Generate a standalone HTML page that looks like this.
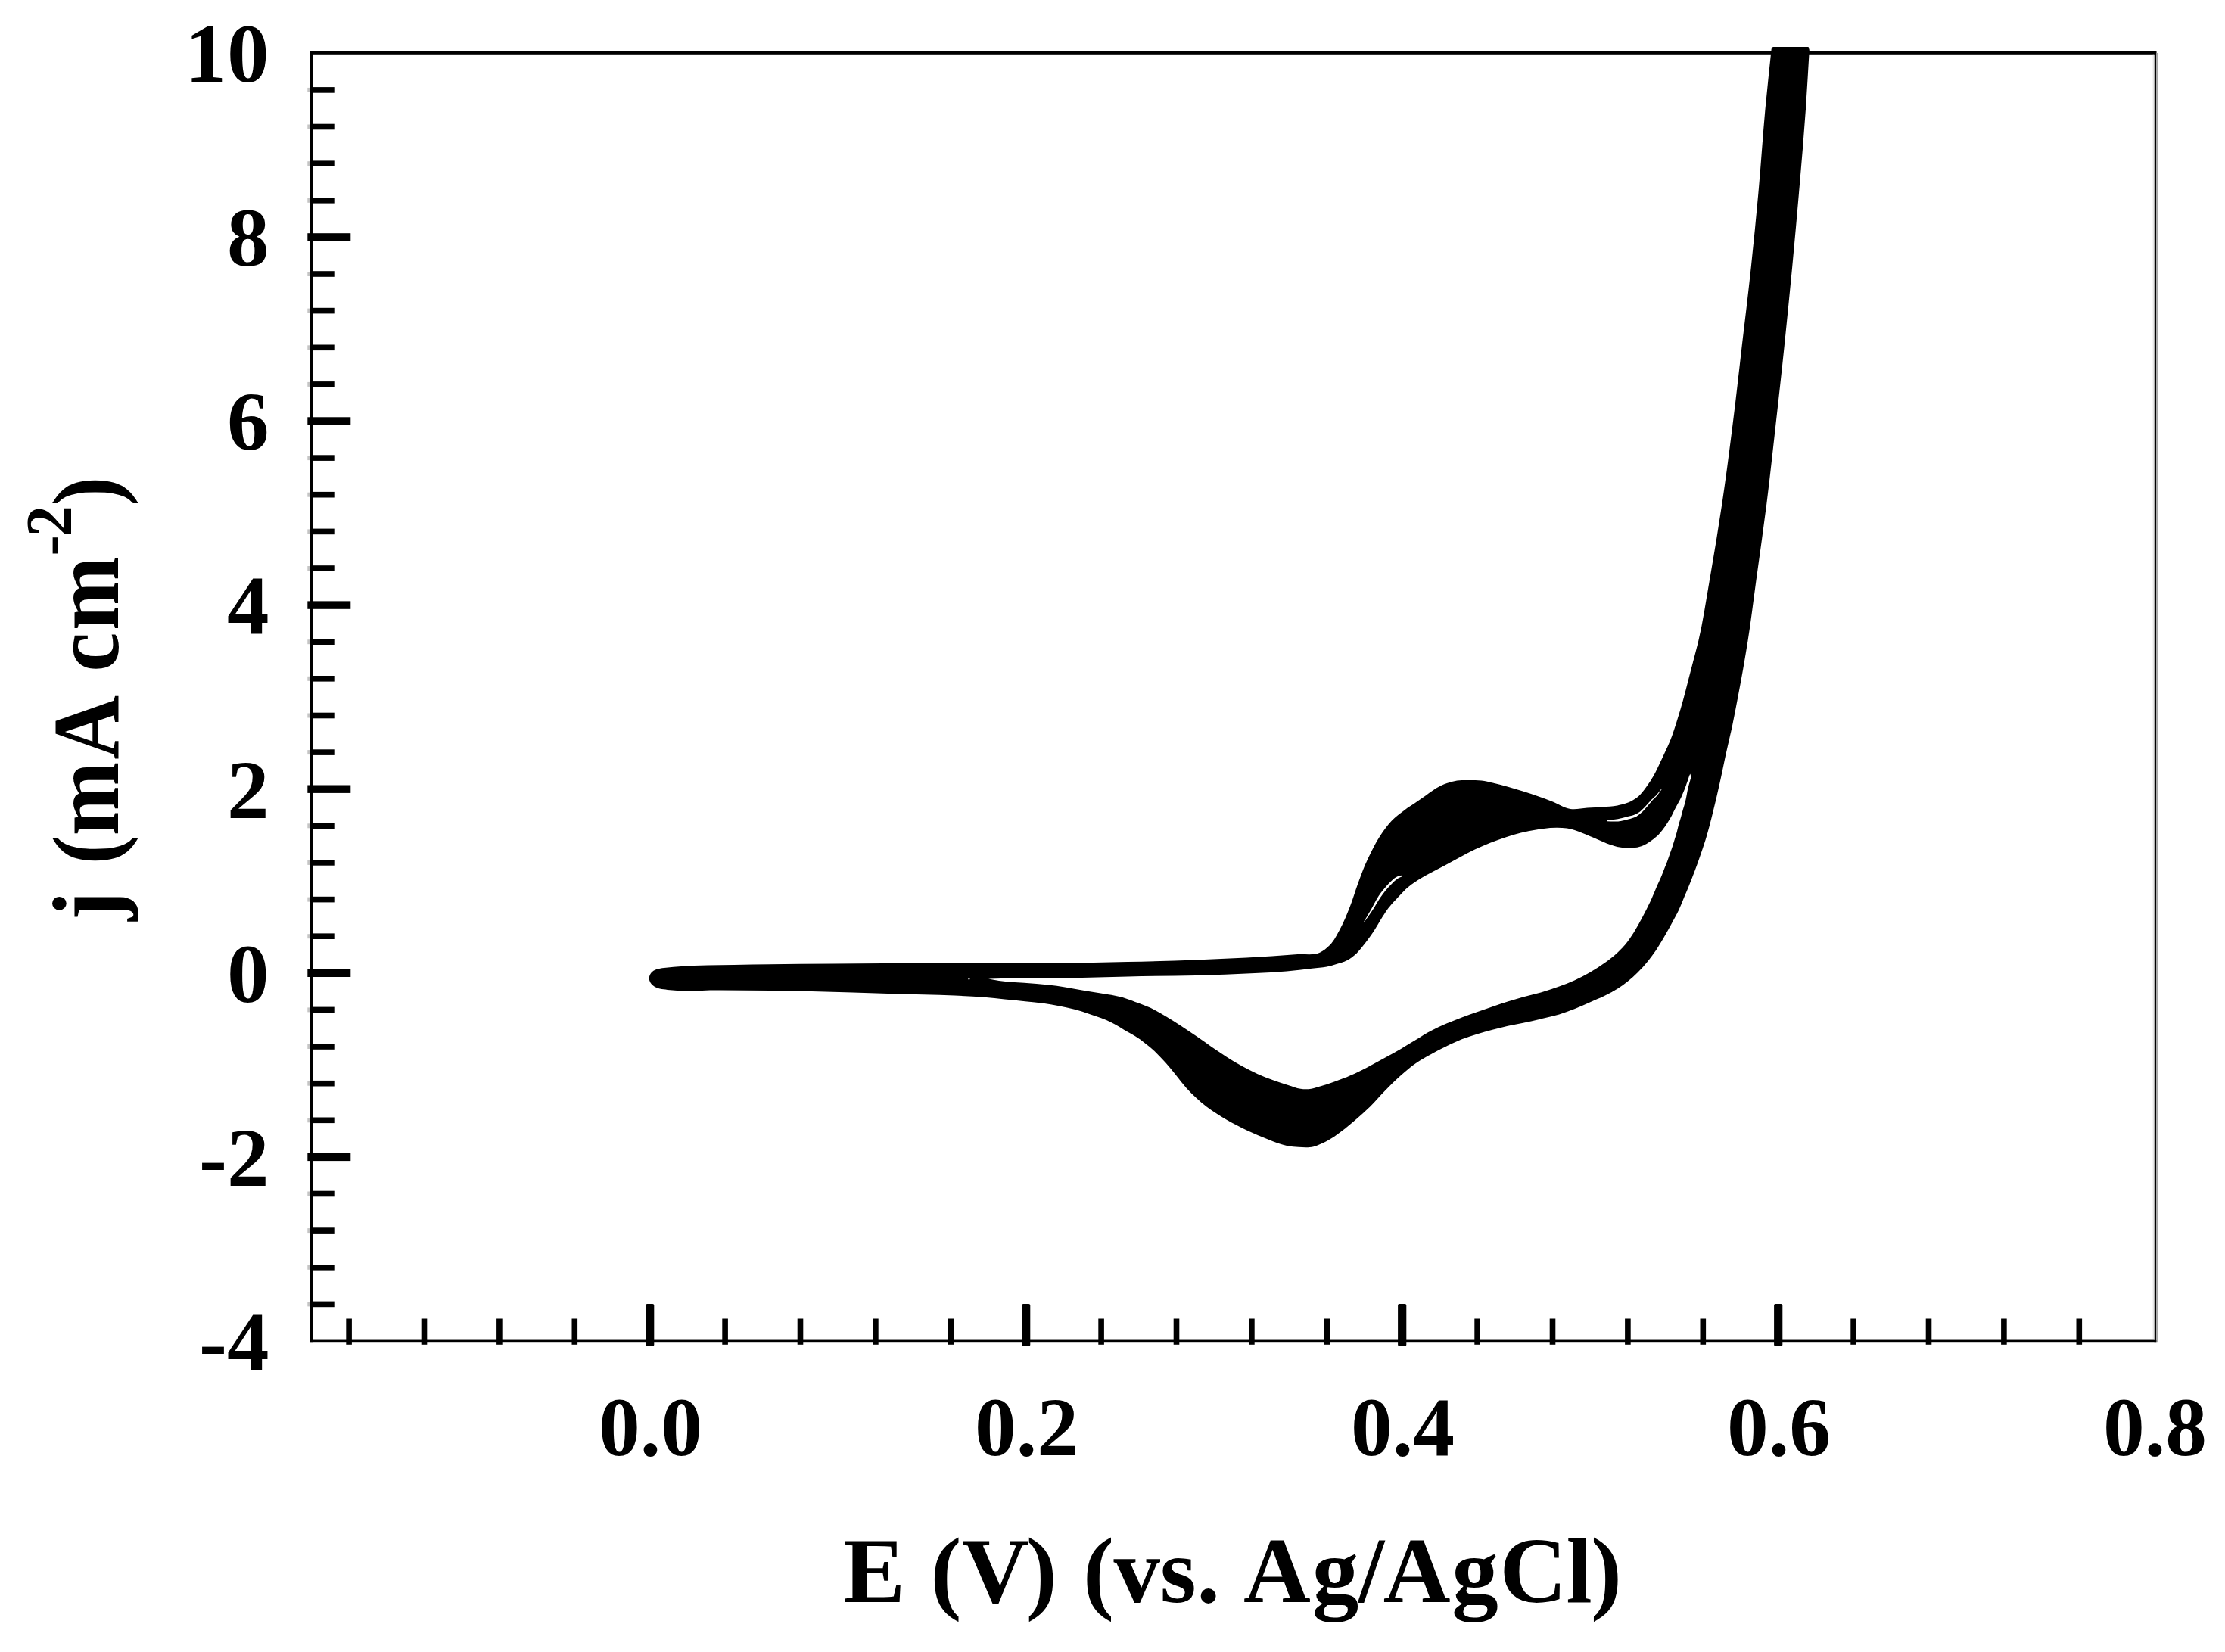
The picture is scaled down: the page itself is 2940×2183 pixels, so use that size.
<!DOCTYPE html>
<html lang="en">
<head>
<meta charset="utf-8">
<title>Cyclic voltammogram</title>
<style>
html,body{margin:0;padding:0;background:#fff;}
body{width:2940px;height:2183px;overflow:hidden;}
svg{display:block;}
.t{font-kerning:none;font-family:"Liberation Serif","Times New Roman",Times,serif;font-weight:bold;fill:#000;}
</style>
</head>
<body>
<svg width="2940" height="2183" viewBox="0 0 2940 2183">
<rect width="2940" height="2183" fill="#fff"/>
<g fill="#000">
<rect x="409" y="67.5" width="5" height="1706.7"/>
<rect x="409" y="67.5" width="2440.3" height="5.3"/>
<rect x="2846.5" y="67.5" width="2.8" height="1706.7"/>
<rect x="2849.3" y="70" width="2.6" height="1704.2" fill="#a8a8a8"/>
<rect x="2844.6" y="72.8" width="1.9" height="1697.2" fill="#e6e6e6"/>
<rect x="409" y="1771" width="2440.3" height="3.2"/>
<rect x="414" y="1769.7" width="2432.5" height="1.3" fill="#8c8c8c"/>
<rect x="409" y="115.1" width="32.7" height="7.6"/>
<rect x="406.3" y="115.9" width="2.7" height="6" fill="#c4c4c4"/>
<rect x="409" y="163.7" width="32.7" height="7.6"/>
<rect x="406.3" y="164.5" width="2.7" height="6" fill="#c4c4c4"/>
<rect x="409" y="212.4" width="32.7" height="7.6"/>
<rect x="406.3" y="213.2" width="2.7" height="6" fill="#c4c4c4"/>
<rect x="409" y="261.0" width="32.7" height="7.6"/>
<rect x="406.3" y="261.8" width="2.7" height="6" fill="#c4c4c4"/>
<rect x="406.3" y="308.2" width="57" height="10.4"/>
<rect x="409" y="358.2" width="32.7" height="7.6"/>
<rect x="406.3" y="359.0" width="2.7" height="6" fill="#c4c4c4"/>
<rect x="409" y="406.8" width="32.7" height="7.6"/>
<rect x="406.3" y="407.6" width="2.7" height="6" fill="#c4c4c4"/>
<rect x="409" y="455.5" width="32.7" height="7.6"/>
<rect x="406.3" y="456.3" width="2.7" height="6" fill="#c4c4c4"/>
<rect x="409" y="504.1" width="32.7" height="7.6"/>
<rect x="406.3" y="504.9" width="2.7" height="6" fill="#c4c4c4"/>
<rect x="406.3" y="551.3" width="57" height="10.4"/>
<rect x="409" y="601.3" width="32.7" height="7.6"/>
<rect x="406.3" y="602.1" width="2.7" height="6" fill="#c4c4c4"/>
<rect x="409" y="649.9" width="32.7" height="7.6"/>
<rect x="406.3" y="650.7" width="2.7" height="6" fill="#c4c4c4"/>
<rect x="409" y="698.6" width="32.7" height="7.6"/>
<rect x="406.3" y="699.4" width="2.7" height="6" fill="#c4c4c4"/>
<rect x="409" y="747.2" width="32.7" height="7.6"/>
<rect x="406.3" y="748.0" width="2.7" height="6" fill="#c4c4c4"/>
<rect x="406.3" y="794.4" width="57" height="10.4"/>
<rect x="409" y="844.4" width="32.7" height="7.6"/>
<rect x="406.3" y="845.2" width="2.7" height="6" fill="#c4c4c4"/>
<rect x="409" y="893.0" width="32.7" height="7.6"/>
<rect x="406.3" y="893.8" width="2.7" height="6" fill="#c4c4c4"/>
<rect x="409" y="941.7" width="32.7" height="7.6"/>
<rect x="406.3" y="942.5" width="2.7" height="6" fill="#c4c4c4"/>
<rect x="409" y="990.3" width="32.7" height="7.6"/>
<rect x="406.3" y="991.1" width="2.7" height="6" fill="#c4c4c4"/>
<rect x="406.3" y="1037.5" width="57" height="10.4"/>
<rect x="409" y="1087.5" width="32.7" height="7.6"/>
<rect x="406.3" y="1088.3" width="2.7" height="6" fill="#c4c4c4"/>
<rect x="409" y="1136.1" width="32.7" height="7.6"/>
<rect x="406.3" y="1136.9" width="2.7" height="6" fill="#c4c4c4"/>
<rect x="409" y="1184.8" width="32.7" height="7.6"/>
<rect x="406.3" y="1185.6" width="2.7" height="6" fill="#c4c4c4"/>
<rect x="409" y="1233.4" width="32.7" height="7.6"/>
<rect x="406.3" y="1234.2" width="2.7" height="6" fill="#c4c4c4"/>
<rect x="406.3" y="1280.6" width="57" height="10.4"/>
<rect x="409" y="1330.6" width="32.7" height="7.6"/>
<rect x="406.3" y="1331.4" width="2.7" height="6" fill="#c4c4c4"/>
<rect x="409" y="1379.2" width="32.7" height="7.6"/>
<rect x="406.3" y="1380.0" width="2.7" height="6" fill="#c4c4c4"/>
<rect x="409" y="1427.9" width="32.7" height="7.6"/>
<rect x="406.3" y="1428.7" width="2.7" height="6" fill="#c4c4c4"/>
<rect x="409" y="1476.5" width="32.7" height="7.6"/>
<rect x="406.3" y="1477.3" width="2.7" height="6" fill="#c4c4c4"/>
<rect x="406.3" y="1523.7" width="57" height="10.4"/>
<rect x="409" y="1573.7" width="32.7" height="7.6"/>
<rect x="406.3" y="1574.5" width="2.7" height="6" fill="#c4c4c4"/>
<rect x="409" y="1622.3" width="32.7" height="7.6"/>
<rect x="406.3" y="1623.1" width="2.7" height="6" fill="#c4c4c4"/>
<rect x="409" y="1671.0" width="32.7" height="7.6"/>
<rect x="406.3" y="1671.8" width="2.7" height="6" fill="#c4c4c4"/>
<rect x="409" y="1719.6" width="32.7" height="7.6"/>
<rect x="406.3" y="1720.4" width="2.7" height="6" fill="#c4c4c4"/>
<rect x="457.3" y="1742.5" width="7.6" height="34.3"/>
<rect x="556.7" y="1742.5" width="7.6" height="34.3"/>
<rect x="656.1" y="1742.5" width="7.6" height="34.3"/>
<rect x="755.5" y="1742.5" width="7.6" height="34.3"/>
<rect x="853.1" y="1723" width="11.2" height="56" rx="2"/>
<rect x="954.3" y="1742.5" width="7.6" height="34.3"/>
<rect x="1053.7" y="1742.5" width="7.6" height="34.3"/>
<rect x="1153.1" y="1742.5" width="7.6" height="34.3"/>
<rect x="1252.5" y="1742.5" width="7.6" height="34.3"/>
<rect x="1350.1" y="1723" width="11.2" height="56" rx="2"/>
<rect x="1451.3" y="1742.5" width="7.6" height="34.3"/>
<rect x="1550.7" y="1742.5" width="7.6" height="34.3"/>
<rect x="1650.1" y="1742.5" width="7.6" height="34.3"/>
<rect x="1749.5" y="1742.5" width="7.6" height="34.3"/>
<rect x="1847.1" y="1723" width="11.2" height="56" rx="2"/>
<rect x="1948.3" y="1742.5" width="7.6" height="34.3"/>
<rect x="2047.7" y="1742.5" width="7.6" height="34.3"/>
<rect x="2147.1" y="1742.5" width="7.6" height="34.3"/>
<rect x="2246.5" y="1742.5" width="7.6" height="34.3"/>
<rect x="2344.1" y="1723" width="11.2" height="56" rx="2"/>
<rect x="2445.3" y="1742.5" width="7.6" height="34.3"/>
<rect x="2544.7" y="1742.5" width="7.6" height="34.3"/>
<rect x="2644.1" y="1742.5" width="7.6" height="34.3"/>
<rect x="2743.5" y="1742.5" width="7.6" height="34.3"/>
</g>
<g class="t">
<text font-size="111" x="355.5" y="108.1" text-anchor="end">10</text>
<text font-size="111" x="355.5" y="351.2" text-anchor="end">8</text>
<text font-size="111" x="355.5" y="594.3" text-anchor="end">6</text>
<text font-size="111" x="355.5" y="837.4" text-anchor="end">4</text>
<text font-size="111" x="355.5" y="1080.5" text-anchor="end">2</text>
<text font-size="111" x="355.5" y="1323.6" text-anchor="end">0</text>
<text font-size="111" x="355.5" y="1566.7" text-anchor="end">-2</text>
<text font-size="111" x="355.5" y="1809.8" text-anchor="end">-4</text>
<text font-size="109.5" x="859.5" y="1923.3" text-anchor="middle">0.0</text>
<text font-size="109.5" x="1356.5" y="1923.3" text-anchor="middle">0.2</text>
<text font-size="109.5" x="1853.5" y="1923.3" text-anchor="middle">0.4</text>
<text font-size="109.5" x="2350.5" y="1923.3" text-anchor="middle">0.6</text>
<text font-size="109.5" x="2847.5" y="1923.3" text-anchor="middle">0.8</text>
</g>
<text class="t" font-size="123" y="2117" x="1114.1 1196.2 1229.6 1270.8 1355.8 1396.8 1431.1 1471.5 1532.8 1581.2 1612.0 1642.9 1733.8 1795.0 1827.8 1918.3 1981.5 2069.5 2102.0">E (V) (vs. Ag/AgCl)</text>
<text class="t" font-size="117.5" transform="translate(155.8 0) rotate(-90) scale(1 1.055)" y="0" x="-1216.8 -1177.7 -1142.5 -1104.4 -1003.8 -918.9 -887.8 -833.2">j (mA cm<tspan font-size="82" y="-59" x="-734.6 -709.2">-2</tspan><tspan y="0" x="-668.8">)</tspan></text>
<path d="M857.8 1293.5C857.7 1291.5 858.3 1289.1 859.3 1287.3C860.2 1285.6 861.9 1284.0 863.5 1282.8C865.4 1281.5 867.8 1280.9 870.0 1280.2C873.2 1279.3 876.7 1279.1 880.0 1278.7C886.6 1277.9 893.3 1277.5 900.0 1277.0C923.3 1275.3 946.7 1275.5 970.0 1275.0C1013.3 1274.0 1056.7 1273.8 1100.0 1273.4C1144.7 1273.0 1189.3 1272.9 1234.0 1272.8C1289.3 1272.6 1344.7 1273.1 1400.0 1272.5C1430.0 1272.2 1460.0 1271.7 1490.0 1271.0C1520.0 1270.3 1550.0 1269.6 1580.0 1268.5C1602.3 1267.7 1624.7 1266.8 1647.0 1265.6C1669.5 1264.4 1692.1 1262.8 1714.6 1261.1C1724.4 1260.3 1735.4 1262.8 1744.0 1258.7C1748.7 1256.5 1753.2 1252.7 1757.0 1249.0C1763.1 1243.0 1766.9 1234.6 1771.0 1227.0C1775.9 1218.0 1779.7 1208.4 1783.5 1198.8C1787.6 1188.4 1790.6 1177.5 1794.5 1167.0C1797.5 1159.0 1800.3 1150.9 1803.7 1143.0C1806.6 1136.4 1809.7 1129.8 1813.0 1123.4C1816.4 1116.8 1819.9 1110.2 1824.0 1104.0C1828.4 1097.4 1833.0 1090.7 1838.5 1085.0C1843.8 1079.5 1850.1 1074.8 1856.3 1070.2C1861.4 1066.4 1866.8 1063.2 1872.0 1059.6C1876.4 1056.6 1880.7 1053.5 1885.0 1050.5C1889.4 1047.4 1893.6 1044.0 1898.3 1041.3C1902.6 1038.9 1907.1 1036.6 1911.8 1035.0C1916.2 1033.5 1920.7 1032.3 1925.3 1031.6C1930.6 1030.8 1936.1 1030.9 1941.5 1030.9C1946.9 1030.9 1952.3 1030.9 1957.6 1031.5C1962.6 1032.1 1967.6 1033.4 1972.5 1034.5C1979.3 1036.0 1986.0 1037.9 1992.7 1039.8C1999.5 1041.7 2006.2 1043.7 2012.9 1045.8C2019.7 1047.9 2026.4 1050.2 2033.1 1052.6C2038.8 1054.6 2044.4 1056.7 2050.0 1058.8C2058.4 1062.0 2066.3 1067.7 2075.0 1068.9C2082.2 1069.9 2089.9 1068.1 2097.4 1067.6C2104.1 1067.2 2110.9 1066.8 2117.6 1066.3C2124.1 1065.8 2130.6 1065.6 2137.0 1064.4C2142.1 1063.4 2147.3 1062.3 2152.0 1060.3C2156.5 1058.3 2161.0 1055.7 2164.8 1052.5C2169.0 1048.9 2172.3 1044.1 2175.6 1039.6C2179.0 1035.0 2182.1 1030.0 2185.0 1025.0C2188.0 1019.8 2190.4 1014.4 2193.0 1009.0C2195.4 1004.0 2197.7 999.0 2200.0 994.0C2202.4 988.8 2204.9 983.7 2207.0 978.5C2210.6 969.6 2213.4 960.3 2216.3 951.1C2219.1 942.2 2221.7 933.2 2224.2 924.2C2226.4 916.2 2228.4 908.1 2230.5 900.0C2232.7 891.7 2234.8 883.3 2237.0 875.0C2239.3 866.0 2241.8 857.0 2244.0 848.0C2250.2 822.0 2253.9 795.5 2258.5 769.2C2264.6 734.5 2270.3 699.8 2275.5 665.0C2280.7 630.3 2285.1 595.6 2289.5 560.8C2293.9 526.1 2297.7 491.4 2301.7 456.7C2305.8 422.0 2310.1 387.3 2313.8 352.5C2317.5 317.8 2320.9 283.1 2324.0 248.3C2327.1 213.6 2329.3 178.9 2332.5 144.2C2335.0 117.6 2338.0 91.1 2340.7 64.5C2341.3 63.7 2342.0 62.9 2342.6 62.1C2358.3 62.1 2373.9 62.1 2389.6 62.1C2390.0 63.4 2390.4 64.7 2390.8 66.0C2389.2 92.1 2387.8 118.1 2386.0 144.2C2383.6 178.9 2380.6 213.6 2377.6 248.3C2374.6 283.0 2371.5 317.8 2368.2 352.5C2364.9 387.2 2361.4 422.0 2357.8 456.7C2354.2 491.4 2350.3 526.1 2346.4 560.8C2342.5 595.5 2338.8 630.3 2334.4 665.0C2330.0 699.8 2325.0 734.5 2320.2 769.2C2316.6 795.5 2313.5 821.8 2309.3 848.0C2307.4 859.9 2305.4 871.8 2303.3 883.7C2301.0 896.5 2298.6 909.2 2296.2 921.9C2293.9 933.9 2291.7 945.9 2289.2 957.9C2286.5 970.7 2283.4 983.4 2280.6 996.1C2277.7 1009.5 2275.0 1023.1 2272.0 1036.5C2269.1 1049.3 2266.2 1062.0 2263.0 1074.7C2260.2 1086.0 2257.4 1097.3 2254.0 1108.4C2251.5 1116.7 2248.6 1124.8 2245.8 1133.0C2243.8 1138.9 2241.7 1144.7 2239.5 1150.5C2237.2 1156.5 2234.9 1162.5 2232.5 1168.4C2230.3 1173.9 2228.0 1179.3 2225.7 1184.7C2223.3 1190.5 2221.1 1196.3 2218.5 1202.0C2215.5 1208.5 2211.9 1214.7 2208.5 1221.0C2205.3 1226.9 2202.1 1232.7 2198.7 1238.5C2195.3 1244.2 2192.0 1250.0 2188.3 1255.5C2185.1 1260.3 2181.6 1265.0 2178.0 1269.5C2173.6 1274.9 2168.9 1280.1 2164.0 1285.0C2159.7 1289.2 2155.3 1293.3 2150.6 1297.0C2146.3 1300.4 2141.9 1303.6 2137.3 1306.5C2132.0 1309.8 2126.5 1312.7 2120.9 1315.5C2114.3 1318.8 2107.4 1321.5 2100.7 1324.5C2093.9 1327.5 2087.3 1330.6 2080.4 1333.3C2073.8 1335.9 2067.0 1338.4 2060.2 1340.5C2053.9 1342.4 2047.4 1343.8 2041.0 1345.3C2031.5 1347.6 2022.0 1349.7 2012.5 1351.7C2005.7 1353.1 1998.9 1354.2 1992.2 1355.7C1985.4 1357.2 1978.7 1359.0 1972.0 1360.8C1965.2 1362.6 1958.5 1364.4 1951.8 1366.5C1945.0 1368.6 1938.2 1370.7 1931.6 1373.3C1924.7 1376.0 1918.0 1379.3 1911.3 1382.5C1904.5 1385.8 1897.7 1389.3 1891.1 1393.0C1884.3 1396.8 1877.3 1400.6 1870.9 1405.0C1863.7 1410.0 1857.0 1415.7 1850.5 1421.5C1843.5 1427.7 1836.9 1434.4 1830.4 1441.0C1823.5 1448.0 1817.2 1455.6 1810.2 1462.5C1803.7 1468.9 1796.9 1474.9 1790.0 1480.8C1785.5 1484.6 1781.0 1488.4 1776.4 1492.0C1772.0 1495.4 1767.6 1498.9 1762.9 1502.0C1758.6 1504.8 1754.1 1507.6 1749.4 1509.8C1744.9 1511.9 1740.3 1514.1 1735.5 1515.2C1729.2 1516.7 1722.3 1516.1 1715.7 1515.8C1711.2 1515.6 1706.6 1515.3 1702.2 1514.5C1697.7 1513.6 1693.2 1512.2 1688.8 1510.7C1684.2 1509.2 1679.8 1507.3 1675.3 1505.5C1670.8 1503.7 1666.3 1501.8 1661.8 1499.9C1657.3 1498.0 1652.8 1496.1 1648.3 1494.0C1643.7 1491.9 1639.3 1489.6 1634.8 1487.3C1630.3 1484.9 1625.7 1482.5 1621.3 1479.9C1616.8 1477.3 1612.3 1474.6 1607.9 1471.8C1603.3 1468.8 1598.7 1465.7 1594.4 1462.4C1589.7 1458.8 1585.2 1454.9 1580.9 1450.9C1576.2 1446.6 1571.7 1442.1 1567.4 1437.4C1562.6 1432.1 1558.4 1426.3 1553.9 1420.8C1549.4 1415.4 1545.1 1409.9 1540.4 1404.6C1536.1 1399.7 1531.7 1394.9 1527.0 1390.4C1522.7 1386.3 1518.2 1382.5 1513.5 1378.9C1509.1 1375.5 1504.7 1372.2 1500.0 1369.3C1496.7 1367.2 1493.3 1365.4 1489.9 1363.5C1483.0 1359.5 1476.3 1355.0 1469.2 1351.5C1464.8 1349.3 1460.3 1347.3 1455.7 1345.5C1450.4 1343.4 1444.9 1341.8 1439.5 1340.0C1433.3 1337.9 1427.0 1335.7 1420.7 1334.0C1413.6 1332.1 1406.3 1330.7 1399.1 1329.3C1392.8 1328.1 1386.5 1326.9 1380.2 1326.0C1371.7 1324.8 1363.1 1324.1 1354.6 1323.2C1345.6 1322.2 1336.6 1321.3 1327.6 1320.4C1318.6 1319.5 1309.7 1318.5 1300.7 1317.8C1287.7 1316.8 1274.6 1316.2 1261.5 1315.6C1234.6 1314.3 1207.6 1314.1 1180.6 1313.3C1144.6 1312.2 1108.7 1310.8 1072.7 1310.0C1032.3 1309.1 991.8 1308.8 951.4 1308.4C928.3 1308.2 905.0 1310.5 882.0 1307.9C878.7 1307.5 875.2 1307.5 872.0 1306.6C869.4 1305.9 866.7 1305.0 864.5 1303.5C862.7 1302.3 860.9 1300.8 859.8 1299.0C858.8 1297.4 857.9 1295.4 857.8 1293.5Z M1306.0 1293.6C1317.3 1293.3 1328.7 1292.9 1340.0 1292.6C1370.0 1291.9 1400.0 1292.6 1430.0 1292.0C1450.0 1291.6 1470.0 1290.8 1490.0 1290.4C1520.0 1289.7 1550.0 1289.8 1580.0 1289.0C1606.0 1288.3 1632.0 1287.4 1658.0 1286.0C1672.0 1285.2 1686.0 1284.6 1700.0 1283.4C1711.3 1282.4 1722.5 1281.1 1733.7 1279.8C1740.1 1279.1 1746.7 1278.9 1753.0 1277.6C1757.9 1276.6 1762.7 1275.1 1767.4 1273.6C1771.7 1272.2 1776.1 1271.1 1780.0 1269.0C1783.7 1267.1 1787.2 1264.6 1790.4 1261.8C1793.5 1259.1 1796.2 1255.7 1798.9 1252.5C1801.4 1249.6 1803.7 1246.5 1806.0 1243.5C1809.2 1239.3 1812.4 1234.9 1815.3 1230.5C1818.5 1225.6 1821.2 1220.4 1824.3 1215.5C1827.6 1210.3 1830.7 1204.9 1834.5 1200.0C1838.3 1195.1 1842.7 1190.5 1847.0 1186.0C1851.7 1181.0 1856.3 1175.9 1861.6 1171.6C1866.6 1167.5 1872.2 1163.9 1877.7 1160.5C1884.3 1156.4 1891.4 1153.0 1898.3 1149.3C1905.0 1145.7 1911.8 1142.0 1918.5 1138.4C1925.3 1134.7 1931.9 1130.9 1938.8 1127.4C1945.4 1124.1 1952.2 1120.9 1959.0 1118.0C1965.7 1115.1 1972.4 1112.5 1979.2 1110.0C1985.9 1107.6 1992.6 1105.3 1999.4 1103.3C2006.1 1101.4 2012.9 1099.7 2019.7 1098.3C2026.4 1096.9 2033.1 1095.8 2039.9 1095.0C2045.9 1094.3 2052.0 1093.7 2058.0 1093.8C2062.1 1093.8 2066.3 1094.0 2070.4 1094.6C2077.4 1095.7 2084.1 1098.4 2090.7 1100.8C2097.6 1103.3 2104.2 1106.5 2110.9 1109.3C2116.3 1111.5 2121.6 1114.1 2127.1 1116.0C2131.3 1117.4 2135.6 1118.8 2140.0 1119.6C2143.3 1120.2 2146.7 1120.5 2150.0 1120.6C2153.6 1120.7 2157.2 1120.6 2160.7 1120.1C2164.3 1119.5 2167.9 1118.6 2171.3 1117.2C2174.3 1115.9 2177.2 1114.1 2180.0 1112.3C2183.1 1110.3 2186.0 1108.1 2188.7 1105.6C2191.6 1103.0 2194.1 1099.9 2196.5 1096.9C2199.0 1093.8 2201.2 1090.5 2203.3 1087.2C2205.3 1084.0 2207.3 1080.8 2209.1 1077.5C2210.8 1074.3 2212.2 1071.0 2213.9 1067.8C2215.6 1064.5 2217.6 1061.4 2219.2 1058.1C2220.8 1054.9 2222.2 1051.7 2223.6 1048.4C2225.0 1045.2 2226.3 1042.0 2227.5 1038.7C2228.3 1036.5 2229.1 1034.2 2229.9 1032.0C2230.6 1029.8 2231.2 1027.6 2232.0 1025.5C2232.4 1024.5 2232.9 1023.5 2233.3 1022.5C2233.6 1023.7 2234.2 1024.8 2234.3 1026.0C2234.5 1027.8 2233.6 1029.7 2233.2 1031.5C2232.5 1034.6 2231.3 1037.6 2230.6 1040.7C2229.8 1043.9 2229.4 1047.2 2228.7 1050.4C2228.1 1053.6 2227.5 1056.8 2226.7 1060.0C2225.9 1063.3 2224.7 1066.5 2223.8 1069.7C2222.9 1072.9 2222.1 1076.2 2221.2 1079.4C2220.3 1082.6 2219.2 1085.8 2218.3 1089.1C2217.4 1092.3 2216.8 1095.6 2215.9 1098.8C2215.0 1102.1 2214.0 1105.3 2213.0 1108.5C2212.0 1111.7 2211.1 1115.0 2210.0 1118.2C2209.0 1121.4 2207.8 1124.6 2206.7 1127.8C2205.6 1131.0 2204.5 1134.3 2203.3 1137.5C2202.1 1140.8 2200.7 1144.0 2199.4 1147.2C2197.8 1151.3 2196.3 1155.5 2194.6 1159.5C2193.1 1163.0 2191.4 1166.5 2189.8 1170.0C2186.9 1176.6 2184.3 1183.4 2181.3 1190.0C2177.6 1198.0 2173.6 1205.8 2169.4 1213.5C2166.8 1218.4 2164.2 1223.3 2161.3 1228.0C2158.0 1233.5 2154.6 1239.1 2150.6 1244.2C2146.5 1249.5 2141.9 1254.4 2137.1 1259.0C2132.1 1263.7 2126.5 1267.9 2120.9 1272.0C2114.4 1276.7 2107.6 1281.0 2100.7 1285.0C2094.1 1288.8 2087.3 1292.4 2080.4 1295.5C2073.8 1298.5 2067.0 1301.0 2060.2 1303.5C2053.5 1305.9 2046.8 1308.2 2040.0 1310.3C2030.9 1313.1 2021.6 1314.9 2012.5 1317.5C2005.7 1319.4 1998.9 1321.5 1992.2 1323.6C1985.4 1325.7 1978.7 1328.0 1972.0 1330.3C1965.3 1332.6 1958.5 1334.8 1951.8 1337.2C1945.0 1339.6 1938.3 1342.0 1931.6 1344.5C1924.8 1347.1 1918.0 1349.7 1911.3 1352.6C1904.5 1355.5 1897.7 1358.5 1891.1 1362.0C1884.2 1365.6 1877.6 1370.0 1870.9 1374.0C1864.2 1378.0 1857.5 1382.2 1850.7 1386.2C1844.0 1390.1 1837.2 1393.9 1830.4 1397.6C1823.7 1401.3 1817.0 1404.9 1810.2 1408.5C1803.5 1412.0 1796.9 1415.7 1790.0 1418.8C1781.2 1422.8 1772.1 1426.3 1762.9 1429.5C1756.2 1431.8 1749.5 1434.2 1742.7 1436.0C1738.2 1437.2 1733.8 1438.8 1729.2 1439.2C1725.6 1439.5 1721.9 1439.3 1718.4 1438.8C1712.9 1438.0 1707.6 1435.7 1702.2 1434.0C1695.4 1431.9 1688.7 1429.7 1682.0 1427.3C1675.2 1424.8 1668.4 1422.2 1661.8 1419.2C1654.9 1416.1 1648.2 1412.7 1641.6 1409.1C1634.7 1405.3 1628.0 1401.2 1621.3 1397.0C1614.5 1392.7 1607.8 1388.1 1601.1 1383.5C1594.3 1378.8 1587.7 1374.0 1580.9 1369.3C1574.2 1364.7 1567.5 1360.2 1560.7 1355.8C1554.0 1351.4 1547.3 1347.1 1540.4 1343.0C1533.8 1339.1 1527.2 1335.0 1520.2 1331.8C1513.7 1328.8 1506.8 1326.5 1500.0 1324.0C1494.3 1321.9 1488.6 1319.5 1482.7 1317.8C1473.5 1315.1 1463.9 1314.0 1454.4 1312.4C1448.1 1311.3 1441.8 1310.5 1435.5 1309.5C1426.0 1307.9 1416.7 1305.8 1407.2 1304.4C1400.0 1303.3 1392.8 1302.4 1385.6 1301.6C1374.9 1300.4 1364.1 1299.7 1353.3 1298.8C1342.2 1297.9 1331.0 1297.6 1320.0 1296.0C1315.3 1295.3 1310.7 1294.4 1306.0 1293.6Z" fill="#000" fill-rule="evenodd"/>
<circle cx="1280.4" cy="1293.6" r="1.1" fill="#fff"/>
<path d="M1802.9 1218.0C1805.0 1215.0 1807.2 1212.0 1809.3 1209.0C1811.5 1205.9 1813.7 1202.7 1815.7 1199.5C1817.7 1196.5 1819.3 1193.3 1821.2 1190.3C1823.1 1187.3 1825.1 1184.2 1827.2 1181.4C1829.4 1178.5 1831.7 1175.7 1834.1 1173.0C1836.3 1170.6 1838.5 1168.1 1840.9 1165.9C1842.9 1164.1 1844.9 1162.1 1847.2 1160.7C1849.1 1159.6 1851.3 1158.9 1853.3 1157.9C1853.1 1157.4 1852.9 1157.0 1852.7 1156.5C1850.5 1157.1 1848.1 1157.5 1846.0 1158.5C1843.4 1159.7 1841.1 1161.8 1838.9 1163.7C1836.4 1165.9 1834.1 1168.5 1831.9 1171.0C1829.4 1173.8 1827.0 1176.6 1824.8 1179.6C1822.6 1182.5 1820.6 1185.6 1818.8 1188.7C1816.9 1191.8 1815.4 1195.1 1813.7 1198.3C1811.8 1201.6 1809.9 1204.9 1807.9 1208.2C1806.1 1211.3 1804.2 1214.4 1802.3 1217.6C1802.5 1217.7 1802.7 1217.9 1802.9 1218.0Z" fill="#fff"/>
<path d="M2123.3 1085.2C2128.3 1085.3 2133.2 1085.9 2138.1 1085.4C2142.7 1084.9 2147.3 1083.8 2151.8 1082.5C2154.8 1081.7 2157.9 1081.1 2160.7 1079.8C2163.4 1078.4 2165.8 1076.5 2168.1 1074.5C2171.0 1072.2 2173.4 1069.3 2175.9 1066.5C2178.5 1063.6 2180.8 1060.5 2183.4 1057.6C2185.6 1055.2 2188.1 1053.2 2190.1 1050.8C2192.2 1048.3 2193.9 1045.5 2195.8 1042.8C2195.6 1042.7 2195.4 1042.5 2195.2 1042.4C2193.2 1044.9 2191.4 1047.6 2189.3 1050.0C2187.2 1052.4 2184.6 1054.4 2182.4 1056.6C2179.7 1059.4 2177.3 1062.5 2174.5 1065.3C2172.0 1067.8 2169.6 1070.6 2166.7 1072.7C2164.4 1074.3 2161.9 1075.8 2159.3 1076.8C2156.7 1077.9 2153.7 1078.3 2150.8 1079.1C2146.5 1080.2 2142.1 1081.4 2137.7 1082.2C2132.9 1083.1 2128.1 1083.3 2123.3 1083.8C2123.3 1084.3 2123.3 1084.7 2123.3 1085.2Z" fill="#fff"/>
</svg>
</body>
</html>
